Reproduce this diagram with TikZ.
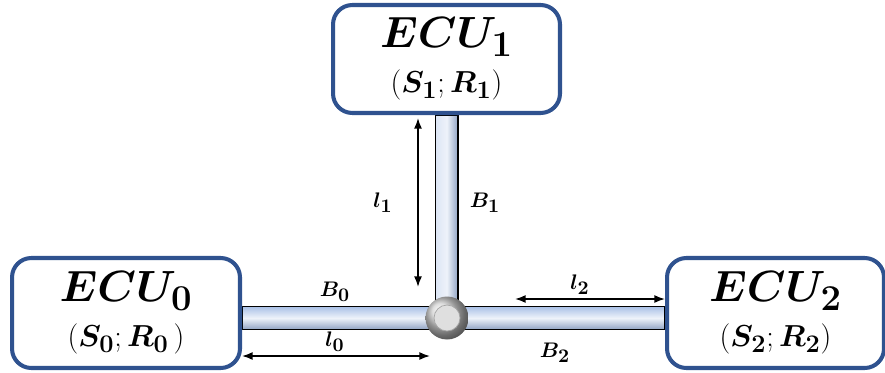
\documentclass[tikz,border=0pt]{standalone}
\usepackage{amsmath}
\usepackage{bm}
\usepackage{tikz}
\usetikzlibrary{positioning, arrows.meta, calc}
\definecolor{ecublue}{HTML}{2F528F}
\definecolor{barblue}{HTML}{A9C0E6}
\DeclareMathSizes{24}{24}{20}{15}
\DeclareMathSizes{17}{17}{14}{10}
\DeclareMathSizes{13}{13}{10.5}{8}
\pgfdeclarelayer{bg}
\pgfsetlayers{bg,main}

\begin{document}
\begin{tikzpicture}[x=0.02cm, y=-0.02cm,
    ecubox/.style={draw=ecublue, line width=2.3pt, fill=white, rounded corners=11pt,
      align=center, inner sep=0pt, minimum height=2.2cm},
    hbar/.style={draw=black, line width=0.8pt, top color=barblue, bottom color=barblue!85!black,
      middle color=white!80!barblue},
    vbar/.style={draw=black, line width=0.8pt, left color=white!60!barblue, right color=barblue!85!black,
      middle color=white!80!barblue},
    dimarrow/.style={{Latex[length=6pt]}-{Latex[length=6pt]}, line width=0.9pt},
    lbl/.style={font=\fontsize{13}{15}\selectfont}]
  \useasboundingbox (0,0) rectangle (885,372);
  % ECUs
  \node[ecubox, minimum width=4.56cm] (ecu0) at (126,313) {%
    {\fontsize{24}{28}\selectfont $\bm{ECU_0}$}\\[7pt]
    {\fontsize{17}{19}\selectfont $(\bm{S_0};\bm{R_0}\,)$}};
  \node[ecubox, minimum width=4.54cm, minimum height=2.16cm] (ecu1) at (446.5,59) {%
    {\fontsize{24}{28}\selectfont $\bm{ECU_1}$}\\[7pt]
    {\fontsize{17}{19}\selectfont $(\bm{S_1};\bm{R_1})$}};
  \node[ecubox, minimum width=4.34cm] (ecu2) at (775.5,313) {%
    {\fontsize{24}{28}\selectfont $\bm{ECU_2}$}\\[7pt]
    {\fontsize{17}{19}\selectfont $(\bm{S_2};\bm{R_2})$}};
  % junction
  \node[circle, ball color=gray!35, minimum size=0.86cm, inner sep=0pt] (hub) at (447,318) {};
  \draw[gray!70, line width=0.4pt, fill=gray!25] (hub.center) circle (0.26cm);
  % buses
  \begin{pgfonlayer}{bg}
    \shade[hbar] ($(ecu0.east|-hub)+(0,-11.5)$) rectangle ($(ecu2.west|-hub)+(0,11.5)$);
    \shade[vbar] ($(ecu1.south)+(-11,0)$) rectangle ($(hub.center)+(11,0)$);
  \end{pgfonlayer}
  % lengths
  \coordinate (l1top) at (418,118);
  \coordinate (l1bot) at (418,287);
  \coordinate (l0end) at (430,356);
  \coordinate (l2beg) at (515,299);
  \draw[dimarrow] (l1top) -- (l1bot);
  \draw[dimarrow] (ecu0.east|-l0end) -- (l0end);
  \draw[dimarrow] (l2beg) -- (ecu2.west|-l2beg);
  % labels
  \node[lbl] (lab-l1) at (383,203) {$\bm{l_1}$};
  \node[lbl] (lab-b1) at (485,203) {$\bm{B_1}$};
  \node[lbl] (lab-b0) at (335,292) {$\bm{B_0}$};
  \node[lbl] (lab-l0) at (335,342) {$\bm{l_0}$};
  \node[lbl] (lab-l2) at (580,285) {$\bm{l_2}$};
  \node[lbl] (lab-b2) at (555,353) {$\bm{B_2}$};
\end{tikzpicture}
\end{document}
